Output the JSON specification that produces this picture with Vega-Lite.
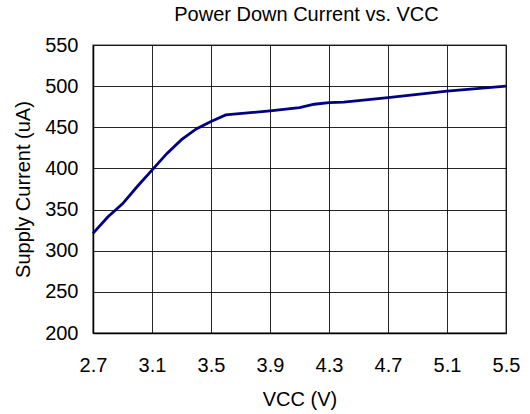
{
  "$schema": "https://vega.github.io/schema/vega-lite/v6.json",
  "autosize": {"type": "none"},
  "padding": {"left": 93, "top": 45, "right": 24, "bottom": 81},
  "width": 413,
  "height": 288,
  "background": "white",
  "title": {"text": "Power Down Current vs. VCC", "font": "Liberation Sans", "fontSize": 20, "fontWeight": "normal", "color": "#000", "anchor": "middle", "dx": 7, "offset": 10},
  "config": {
    "view": {"stroke": "#808080", "strokeWidth": 1.5},
    "axis": {"labelFont": "Liberation Sans", "titleFont": "Liberation Sans", "labelFontSize": 20, "titleFontSize": 20, "titleFontWeight": "normal", "labelColor": "#000", "titleColor": "#000", "gridColor": "#000", "gridOpacity": 0.85, "gridWidth": 1, "domainColor": "#000", "domainWidth": 1.5, "ticks": false}
  },
  "data": {"values": [
    {"vcc": 2.7, "current": 321},
    {"vcc": 2.8, "current": 341},
    {"vcc": 2.9, "current": 357},
    {"vcc": 3.0, "current": 378},
    {"vcc": 3.1, "current": 398},
    {"vcc": 3.2, "current": 418},
    {"vcc": 3.3, "current": 435},
    {"vcc": 3.4, "current": 448},
    {"vcc": 3.5, "current": 457},
    {"vcc": 3.6, "current": 465},
    {"vcc": 3.9, "current": 470},
    {"vcc": 4.1, "current": 474},
    {"vcc": 4.2, "current": 478},
    {"vcc": 4.3, "current": 480},
    {"vcc": 4.4, "current": 480.5},
    {"vcc": 4.7, "current": 486},
    {"vcc": 5.1, "current": 494},
    {"vcc": 5.5, "current": 500}
  ]},
  "mark": {"type": "line", "color": "#000080", "strokeWidth": 2.8},
  "encoding": {
    "x": {"field": "vcc", "type": "quantitative", "title": "VCC (V)",
      "scale": {"domain": [2.7, 5.5], "nice": false, "zero": false},
      "axis": {"values": [2.7, 3.1, 3.5, 3.9, 4.3, 4.7, 5.1, 5.5], "format": ".1f", "labelPadding": 22, "titlePadding": 14, "labelFlush": false}},
    "y": {"field": "current", "type": "quantitative", "title": "Supply Current (uA)",
      "scale": {"domain": [200, 550], "nice": false, "zero": false},
      "axis": {"values": [200, 250, 300, 350, 400, 450, 500, 550], "labelPadding": 15, "titlePadding": 11, "labelFlush": false}}
  }
}
